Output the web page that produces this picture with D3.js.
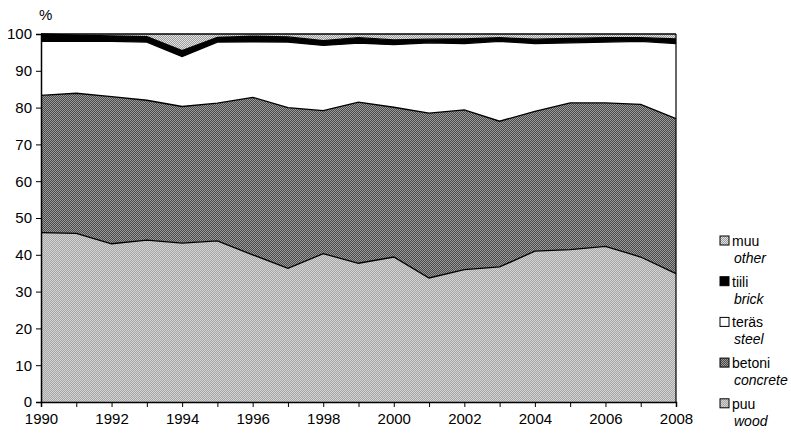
<!DOCTYPE html>
<html><head><meta charset="utf-8">
<script src="https://cdn.jsdelivr.net/npm/d3@7"></script>
<style>body{margin:0;background:#fff}svg{display:block}text{font-family:"Liberation Sans",Arial,sans-serif;fill:#000}</style>
</head><body><svg id="c" width="791" height="435"></svg>
<script>
const years = [1990,1991,1992,1993,1994,1995,1996,1997,1998,1999,2000,2001,2002,2003,2004,2005,2006,2007,2008];
const wood     = [46.0,45.8,43.0,44.0,43.2,43.8,40.0,36.3,40.3,37.7,39.4,33.7,36.0,36.7,41.0,41.4,42.3,39.4,34.9];
const concrete = [37.3,38.1,40.0,38.0,37.1,37.4,42.8,43.7,38.9,43.8,40.7,44.8,43.4,39.6,38.0,39.9,39.0,41.5,42.1];
const steel    = [14.7,14.1,15.0,15.8,13.6,16.6,15.1,17.8,17.7,16.0,17.0,19.1,18.0,21.7,18.4,16.3,16.5,17.1,20.4];
const brick    = [2.0,1.7,1.5,1.5,1.6,1.3,1.5,1.4,1.3,1.5,1.3,1.0,1.3,1.0,1.2,1.2,1.2,1.0,1.3];
const other    = [0.0,0.3,0.5,0.7,4.5,0.9,0.6,0.8,1.8,1.0,1.6,1.4,1.3,1.0,1.4,1.2,1.0,1.0,1.3];
const seriesKeys = ["wood","concrete","steel","brick","other"];
const legendFi = ["muu","tiili","teräs","betoni","puu"];
const legendEn = ["other","brick","steel","concrete","wood"];
const legendKeys = ["other","brick","steel","concrete","wood"];
const yTicks = [0,10,20,30,40,50,60,70,80,90,100];
const xLabelYears = [1990,1992,1994,1996,1998,2000,2002,2004,2006,2008];

const data = years.map((y,i)=>({year:y,wood:wood[i],concrete:concrete[i],steel:steel[i],brick:brick[i],other:other[i]}));

const svg = d3.select("#c");
const L=41, R=676, T=34, B=402;
const x = d3.scaleLinear().domain([1990,2008]).range([L,R]);
const y = d3.scaleLinear().domain([0,100]).range([B,T]);

const defs = svg.append("defs");
function checker(id,a,b){
  const p=defs.append("pattern").attr("id",id).attr("width",2).attr("height",2).attr("patternUnits","userSpaceOnUse");
  p.append("rect").attr("width",2).attr("height",2).attr("fill",a);
  p.append("rect").attr("width",1).attr("height",1).attr("fill",b);
  p.append("rect").attr("x",1).attr("y",1).attr("width",1).attr("height",1).attr("fill",b);
}
checker("pWood","#a6a6a6","#d4d4d4");
checker("pConc","#4a4a4a","#9a9a9a");
checker("pOther","#9c9c9c","#e2e2e2");
const fills = {wood:"url(#pWood)",concrete:"url(#pConc)",steel:"#ffffff",brick:"#000000",other:"url(#pOther)"};

const stack = d3.stack().keys(seriesKeys)(data);
const area = d3.area().x(d=>x(d.data.year)).y0(d=>y(d[0])).y1(d=>y(d[1]));
const line = d3.line().x(d=>x(d.data.year)).y(d=>y(d[1]));

svg.append("g").selectAll("path").data(stack).join("path")
  .attr("d",area).attr("fill",d=>fills[d.key]);
svg.append("g").selectAll("path").data(stack.filter(s=>s.key!=="other")).join("path")
  .attr("d",line).attr("fill","none").attr("stroke","#000").attr("stroke-width",1.3);

// frame
svg.append("line").attr("x1",L).attr("x2",R).attr("y1",T).attr("y2",T).attr("stroke","#000").attr("stroke-width",1.5);
svg.append("line").attr("x1",R).attr("x2",R).attr("y1",T).attr("y2",B).attr("stroke","#000").attr("stroke-width",1.2);

// axes
const yAxis = d3.axisLeft(y).tickValues(yTicks).tickSize(5).tickPadding(4);
const gy = svg.append("g").attr("transform",`translate(${L},0)`).call(yAxis);
const xAxis = d3.axisBottom(x).tickValues(years).tickSize(5).tickPadding(6)
  .tickFormat(d=>xLabelYears.includes(d)?String(d):"");
const gx = svg.append("g").attr("transform",`translate(0,${B})`).call(xAxis);
[gy,gx].forEach(g=>{
  g.selectAll("path").attr("stroke","#000").attr("stroke-width",1.5);
  g.selectAll("line").attr("stroke","#000");
  g.selectAll("text").attr("font-size",15).attr("font-family","Liberation Sans, Arial, sans-serif").attr("fill","#000");
});
svg.append("text").attr("x",L-2).attr("y",20).attr("font-size",15).text("%");

// legend
const lg = svg.append("g");
legendKeys.forEach((k,i)=>{
  const yy = 241 + i*40.7;
  lg.append("rect").attr("x",720).attr("y",yy-5).attr("width",9).attr("height",9)
    .attr("fill",fills[k]).attr("stroke","#000").attr("stroke-width",1);
  lg.append("text").attr("x",732).attr("y",yy+5).attr("font-size",14).text(legendFi[i]);
  lg.append("text").attr("x",734).attr("y",yy+22).attr("font-size",14).attr("font-style","italic").text(legendEn[i]);
});
</script></body></html>
